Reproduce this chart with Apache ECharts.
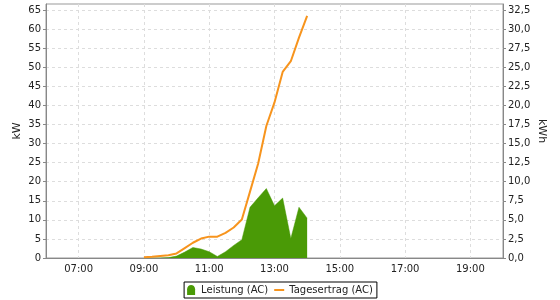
<!DOCTYPE html>
<html>
<head>
<meta charset="utf-8">
<script src="https://cdn.jsdelivr.net/npm/echarts@6/dist/echarts.min.js"></script>
<style>
html,body{margin:0;padding:0;background:#fff;}
#c{width:560px;height:300px;}
</style>
</head>
<body>
<div id="c"></div>
<script>
// time of day in hours (15-minute steps)
const times = [9.0, 9.25, 9.5, 9.75, 10.0, 10.25, 10.5, 10.75, 11.0, 11.25, 11.5, 11.75,
               12.0, 12.25, 12.5, 12.75, 13.0, 13.25, 13.5, 13.75, 14.0];
// Leistung (AC) in kW
const leistung = [0, 0, 0, 0.1, 0.5, 1.55, 2.75, 2.35, 1.65, 0.4, 1.65, 3.3,
                  4.8, 13.3, 15.8, 18.2, 13.7, 15.7, 5.1, 13.3, 10.45];
// Tagesertrag (AC) in kWh
const ertrag = [0.1, 0.15, 0.25, 0.35, 0.6, 1.3, 2.0, 2.55, 2.8, 2.8, 3.3, 4.0,
                5.05, 8.7, 12.4, 17.3, 20.4, 24.4, 25.8, 28.9, 31.75];
// x tick positions (hours) and labels
const xTicks = [7, 9, 11, 13, 15, 17, 19];
const xTickLabels = ['07:00', '09:00', '11:00', '13:00', '15:00', '17:00', '19:00'];
// y tick values
const kwTicks = [0, 5, 10, 15, 20, 25, 30, 35, 40, 45, 50, 55, 60, 65];
const kwhTicks = [0, 2.5, 5, 7.5, 10, 12.5, 15, 17.5, 20, 22.5, 25, 27.5, 30, 32.5];

const font = 'DejaVu Sans';
const txt = '#222';
const chart = echarts.init(document.getElementById('c'), null, {renderer: 'canvas'});
chart.setOption({
  animation: false,
  backgroundColor: '#fff',
  textStyle: {fontFamily: font},
  grid: {left: 46, right: 57, top: 4, bottom: 42, show: true, borderColor: '#999', borderWidth: 1, backgroundColor: '#fff'},
  legend: {
    bottom: 2, left: 'center',
    orient: 'horizontal',
    borderColor: '#000', borderWidth: 1, borderRadius: 0,
    padding: [3, 4, 3, 3],
    itemGap: 6, itemWidth: 10, itemHeight: 10,
    textStyle: {fontFamily: font, fontSize: 10, color: txt},
    data: [
      {name: 'Leistung (AC)', icon: 'path://M0,10 L0,5 C0,0 7,0 7,5 L7,10 Z'},
      {name: 'Tagesertrag (AC)', icon: 'path://M0,0 L10,0 L10,2 L0,2 Z'}
    ]
  },
  xAxis: {
    type: 'value', min: 6, max: 20,
    axisLine: {show: true, lineStyle: {color: '#888'}},
    axisTick: {show: false, customValues: xTicks},
    axisLabel: {customValues: xTicks, color: txt, fontSize: 10, fontFamily: font, margin: 6,
      formatter: v => xTickLabels[xTicks.indexOf(v)] || ''},
    splitLine: {show: true, lineStyle: {color: '#ddd', type: [3, 3]}}
  },
  yAxis: [
    {
      type: 'value', min: 0, max: 66.6, position: 'left',
      name: 'kW', nameLocation: 'middle', nameGap: 23, nameRotate: 90, nameMoveOverlap: false,
      nameTextStyle: {color: txt, fontSize: 11, fontFamily: font},
      axisLine: {show: true, lineStyle: {color: '#888'}},
      axisTick: {show: true, length: 3, lineStyle: {color: '#888'}, customValues: kwTicks},
      axisLabel: {color: txt, fontSize: 10, fontFamily: font, margin: 5, customValues: kwTicks},
      splitLine: {show: true, lineStyle: {color: '#ddd', type: [3, 3]}}
    },
    {
      type: 'value', min: 0, max: 33.3, position: 'right',
      name: 'kWh', nameLocation: 'middle', nameGap: 33, nameRotate: -90, nameMoveOverlap: false,
      nameTextStyle: {color: txt, fontSize: 11, fontFamily: font},
      axisLine: {show: true, lineStyle: {color: '#888'}},
      axisTick: {show: true, length: 3, lineStyle: {color: '#888'}, customValues: kwhTicks},
      axisLabel: {color: txt, fontSize: 10, fontFamily: font, margin: 5, customValues: kwhTicks,
        formatter: v => v.toFixed(1).replace('.', ',')},
      splitLine: {show: false}
    }
  ],
  series: [
    {
      name: 'Leistung (AC)', type: 'line', yAxisIndex: 0,
      data: times.map((t, i) => [t, leistung[i]]),
      showSymbol: false, symbol: 'none',
      color: '#4a9a06',
      lineStyle: {width: 0.5, color: '#4a9a06'},
      areaStyle: {color: '#4a9a06', opacity: 1},
      z: 2
    },
    {
      name: 'Tagesertrag (AC)', type: 'line', yAxisIndex: 1,
      data: times.map((t, i) => [t, ertrag[i]]),
      showSymbol: false, symbol: 'none',
      color: '#f7941d',
      lineStyle: {width: 2, color: '#f7941d'},
      z: 3
    }
  ]
});
</script>
</body>
</html>
